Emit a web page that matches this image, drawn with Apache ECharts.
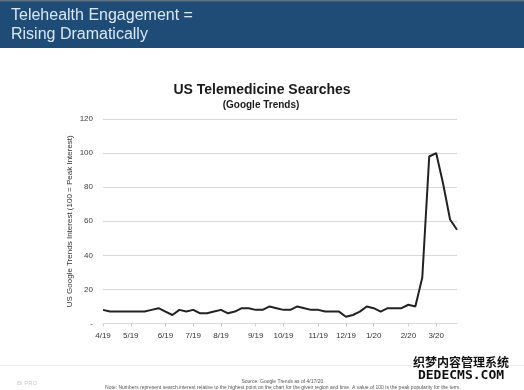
<!DOCTYPE html>
<html>
<head>
<meta charset="utf-8">
<style>
  html, body { margin: 0; padding: 0; background: #ffffff; }
  #chart { width: 524px; height: 390px; }
</style>
<script src="https://cdn.jsdelivr.net/npm/echarts@6/dist/echarts.min.js"></script>
</head>
<body>
<div id="chart"></div>
<script>
// Weekly Google Trends weeks (week starting)
var weeks = [
  '3/31/19','4/7/19','4/14/19','4/21/19','4/28/19','5/5/19','5/12/19','5/19/19','5/26/19',
  '6/2/19','6/9/19','6/16/19','6/23/19','6/30/19','7/7/19','7/14/19','7/21/19','7/28/19',
  '8/4/19','8/11/19','8/18/19','8/25/19','9/1/19','9/8/19','9/15/19','9/22/19','9/29/19',
  '10/6/19','10/13/19','10/20/19','10/27/19','11/3/19','11/10/19','11/17/19','11/24/19',
  '12/1/19','12/8/19','12/15/19','12/22/19','12/29/19','1/5/20','1/12/20','1/19/20','1/26/20',
  '2/2/20','2/9/20','2/16/20','2/23/20','3/1/20','3/8/20','3/15/20','3/22/20'
];
// Search interest (100 = peak)
var interest = [
  8,7,7,7,7,7,7,8,9,7,5,8,7,8,6,6,7,8,6,7,9,9,8,8,10,9,
  8,8,10,9,8,8,7,7,7,4,5,7,10,9,7,9,9,9,11,10,27,98,100,82,61,55
];
// Month tick labels and the week index where each is drawn
var monthLabels = ['4/19','5/19','6/19','7/19','8/19','9/19','10/19','11/19','12/19','1/20','2/20','3/20'];
var monthIndex  = [0, 4, 9, 13, 17, 22, 26, 31, 35, 39, 44, 48];
var yTicks = [0, 20, 40, 60, 80, 100, 120];

var chart = echarts.init(document.getElementById('chart'), null, { renderer: 'canvas' });
var FONT = '"Liberation Sans", Arial, Helvetica, sans-serif';

function isMonthTick(idx) { return monthIndex.indexOf(idx) !== -1; }

var option = {
  backgroundColor: '#ffffff',
  animation: false,
  textStyle: { fontFamily: FONT },
  grid: { left: 103, right: 67, top: 119, bottom: 66.5, containLabel: false },
  xAxis: {
    type: 'category',
    data: weeks,
    boundaryGap: false,
    axisLine: { show: true, lineStyle: { color: '#d9d9d9', width: 1 } },
    axisTick: { show: true, interval: function (idx) { return isMonthTick(idx); }, length: 3, lineStyle: { color: '#d0d0d0' } },
    axisLabel: {
      interval: function (idx) { return isMonthTick(idx); },
      formatter: function (v, idx) { var k = monthIndex.indexOf(idx); return k === -1 ? '' : monthLabels[k]; },
      fontSize: 8, color: '#333333', fontFamily: FONT, margin: 8
    },
    splitLine: { show: false }
  },
  yAxis: {
    type: 'value',
    min: yTicks[0], max: yTicks[yTicks.length - 1], interval: 20,
    name: 'US Google Trends Interest (100 = Peak Interest)',
    nameLocation: 'middle', nameRotate: 90, nameGap: 29,
    nameMoveOverlap: false,
    nameTextStyle: { fontSize: 8, color: '#333333', fontFamily: FONT },
    axisLine: { show: false },
    axisTick: { show: false },
    axisLabel: {
      formatter: function (v) { return v === 0 ? '-' : String(v); },
      fontSize: 8, color: '#404040', fontFamily: FONT, margin: 10
    },
    splitLine: { show: true, lineStyle: { color: '#d9d9d9', width: 1 } }
  },
  series: [{
    type: 'line',
    data: interest,
    showSymbol: false,
    symbol: 'none',
    smooth: false,
    lineStyle: { color: '#222222', width: 2 },
    z: 5
  }],
  graphic: [
    { type: 'rect', left: 0, top: 0, shape: { width: 524, height: 48 }, style: { fill: '#1e4c76' }, silent: true },
    { type: 'rect', left: 0, top: 0, shape: { width: 524, height: 1.5 }, style: { fill: '#5d6f80' }, silent: true },
    { type: 'text', left: 11, top: 8, style: { text: 'Telehealth Engagement =', fill: '#d9e8f6', font: '16px ' + FONT } },
    { type: 'text', left: 11, top: 27, style: { text: 'Rising Dramatically', fill: '#d9e8f6', font: '16px ' + FONT } },
    { type: 'text', x: 262, y: 90, style: { text: 'US Telemedicine Searches', fill: '#1a1a1a', font: 'bold 14px ' + FONT, align: 'center', verticalAlign: 'middle' } },
    { type: 'text', x: 261, y: 105, style: { text: '(Google Trends)', fill: '#1a1a1a', font: 'bold 10px ' + FONT, align: 'center', verticalAlign: 'middle' } },
    { type: 'rect', left: 0, top: 365, shape: { width: 524, height: 1 }, style: { fill: '#ececec' }, silent: true },
    { type: 'text', x: 17, y: 383, style: { text: 'BI PRO', fill: '#c8c8c8', font: '6px ' + FONT, verticalAlign: 'middle' } },
    { type: 'text', x: 283, y: 382, style: { text: 'Source: Google Trends as of 4/17/20.', fill: '#555555', font: '5px ' + FONT, align: 'center', verticalAlign: 'middle' } },
    { type: 'text', x: 283, y: 388, style: { text: 'Note: Numbers represent search interest relative to the highest point on the chart for the given region and time. A value of 100 is the peak popularity for the term.', fill: '#555555', font: '5px ' + FONT, align: 'center', verticalAlign: 'middle' } },
    { type: 'text', x: 461, y: 362, z: 100, style: { text: '织梦内容管理系统', fill: '#111111', stroke: '#ffffff', lineWidth: 2, font: 'bold 12px "Noto Sans CJK SC", sans-serif', align: 'center', verticalAlign: 'middle' } },
    { type: 'text', x: 461, y: 376, z: 100, style: { text: 'DEDECMS.COM', fill: '#111111', stroke: '#ffffff', lineWidth: 2, font: 'bold 13px "DejaVu Sans Mono", monospace', align: 'center', verticalAlign: 'middle' } }
  ]
};
chart.setOption(option);
</script>
</body>
</html>
